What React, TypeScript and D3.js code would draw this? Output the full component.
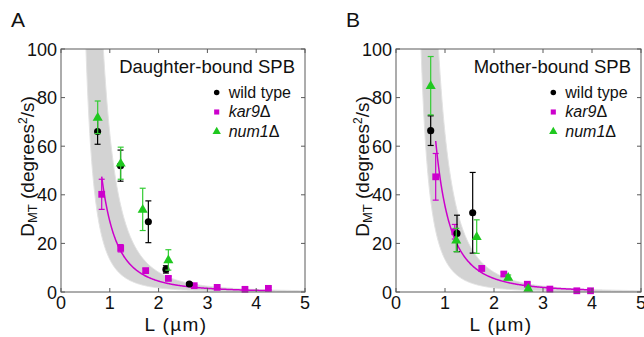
import React from 'react';
import * as d3 from 'd3';

const xTicks = [0, 1, 2, 3, 4, 5];
const yTicks = [0, 20, 40, 60, 80, 100];
const legendLabels = ['wild type', 'kar9', 'num1'];

// Daughter-bound SPB (panel A): [L (µm), D_MT, error]
const daughterWildType = [[0.75, 66, 5.2], [1.22, 52, 6.4], [1.79, 28.9, 8.6], [2.15, 9.3, 1.5], [2.63, 3.3, 0.6]];
const daughterKar9 = [[0.834, 40.2, 6.2], [1.223, 18, 1.5], [1.735, 8.8, 0.8], [2.2, 5.6, 0.8], [2.73, 2.6, 0.5], [3.2, 1.9, 0.5], [3.77, 1.1, 0.4], [4.25, 1.5, 0.5]];
const daughterNum1 = [[0.752, 71.9, 6.7], [1.223, 53, 6.6], [1.674, 34, 8.7], [2.2, 13.2, 4.2]];

// Mother-bound SPB (panel B)
const motherWildType = [[0.708, 66.4, 6.1], [1.245, 24.1, 7.5], [1.565, 32.6, 16.6]];
const motherKar9 = [[0.81, 47.4, 9.6], [1.2, 24.8, 3], [1.75, 9.7, 1], [2.2, 7.4, 0.8], [2.68, 3.2, 0.6], [3.14, 1.2, 0.5], [3.69, 0.5, 0.4], [3.97, 0.5, 0.4]];
const motherNum1 = [[0.708, 84.9, 12], [1.23, 21.4, 4.8], [1.647, 22.8, 6.9], [2.29, 6, 1], [2.7, 1.5, 0.5]];

// kar9Δ power-law fit D = a / L^p, drawn over [from, to]
const daughterFit = [29.1, 2.7, 0.834, 4.28];
const motherFit = [35.4, 2.67, 0.81, 4.0];
// model band D = c / L^3 (lower c, upper c)
const bandCoef = [13.4, 65.2];

const COLORS = ['#000000', '#cc00cc', '#1fc81f'];
const ERR_COLORS = ['#000000', '#cc00cc', '#33cc33'];
const SYMBOLS = [d3.symbolCircle, d3.symbolSquare, d3.symbolTriangle];
const SIZES = [40, 46, 44];
const LEG_SIZES = [24, 26, 30];
const FONT = 'Liberation Sans, Arial, sans-serif';

type Row = number[];

function Panel(props: {
  id: string; left: number; right: number; letter: string; letterX: number;
  title: string; legendX: number; ylabelX: number; xlabelX: number;
  series: Row[][]; fit: number[];
}) {
  const { id, left, right, letter, letterX, title, legendX, ylabelX, xlabelX, series, fit } = props;
  const top = 49, bottom = 292;
  const x = d3.scaleLinear().domain([0, 5]).range([left, right]);
  const y = d3.scaleLinear().domain([0, 100]).range([bottom, top]);

  const Ls = d3.range(0.3, 5.6, 0.01);
  const area = d3.area<number>()
    .x(l => x(l))
    .y0(l => y(Math.min(bandCoef[0] / (l * l * l), 200)))
    .y1(l => y(Math.min(bandCoef[1] / (l * l * l), 200)));
  const fitLs = d3.range(fit[2], fit[3] + 0.001, 0.01);
  const line = d3.line<number>().x(l => x(l)).y(l => y(fit[0] / Math.pow(l, fit[1])));
  const clipId = 'clip-' + id;
  const tl = 4;
  const order = [1, 0, 2];

  return (
    <g>
      <defs>
        <clipPath id={clipId}>
          <rect x={left} y={top} width={right - left} height={bottom - top} />
        </clipPath>
      </defs>
      <text x={letterX} y={27} fontSize={21} fontFamily={FONT} fill="#111">{letter}</text>
      <g clipPath={`url(#${clipId})`}>
        <path d={area(Ls) || ''} fill="#d3d3d3" stroke="#e2e2e2" strokeWidth={1} />
        <path d={line(fitLs) || ''} fill="none" stroke="#cc00cc" strokeWidth={1.5} />
      </g>
      {order.map(si => (
        <g key={si}>
          {series[si].map((r, i) => {
            const cx = x(r[0]);
            const cy = y(r[1]);
            const yt = y(r[1] + r[2]);
            const yb = y(Math.max(r[1] - r[2], 0));
            return (
              <g key={i}>
                <g stroke={ERR_COLORS[si]} strokeWidth={1.2}>
                  <line x1={cx} x2={cx} y1={yt} y2={yb} />
                  <line x1={cx - 3} x2={cx + 3} y1={yt} y2={yt} />
                  <line x1={cx - 3} x2={cx + 3} y1={yb} y2={yb} />
                </g>
                <path d={d3.symbol(SYMBOLS[si], SIZES[si])() || ''}
                  transform={`translate(${cx},${cy + (si === 2 ? 0.5 : 0)})`} fill={COLORS[si]} />
              </g>
            );
          })}
        </g>
      ))}
      <rect x={left} y={top} width={right - left} height={bottom - top} fill="none" stroke="#5a5a5a" strokeWidth={1} />
      {xTicks.map(t => (
        <g key={'x' + t}>
          <line x1={x(t)} x2={x(t)} y1={bottom} y2={bottom - tl} stroke="#5a5a5a" />
          <line x1={x(t)} x2={x(t)} y1={top} y2={top + tl} stroke="#5a5a5a" />
          <text x={x(t)} y={309} textAnchor="middle" fontSize={18} fontFamily={FONT} fill="#111">{t}</text>
        </g>
      ))}
      {yTicks.map(t => (
        <g key={'y' + t}>
          <line x1={left} x2={left + tl} y1={y(t)} y2={y(t)} stroke="#5a5a5a" />
          <line x1={right} x2={right - tl} y1={y(t)} y2={y(t)} stroke="#5a5a5a" />
          <text x={left - 4} y={y(t) + 6.5} textAnchor="end" fontSize={18} fontFamily={FONT} fill="#111">{t}</text>
        </g>
      ))}
      <text x={xlabelX} y={331} textAnchor="middle" fontSize={19} letterSpacing={1.4} fontFamily={FONT} fill="#111">L (µm)</text>
      <text transform={`translate(${ylabelX},${(top + bottom) / 2 - 4}) rotate(-90)`} textAnchor="middle"
        fontSize={19} fontFamily={FONT} fill="#111">
        D<tspan fontSize={13} dy={3}>MT</tspan><tspan dy={-3}> (degrees</tspan><tspan fontSize={12} dy={-7}>2</tspan><tspan dy={7}>/s)</tspan>
      </text>
      <text x={right - 10} y={73} textAnchor="end" fontSize={18.5} fontFamily={FONT} fill="#111">{title}</text>
      {legendLabels.map((lab, i) => {
        const by = 97.5 + i * 19.5;
        return (
          <g key={lab}>
            <path d={d3.symbol(SYMBOLS[i], LEG_SIZES[i])() || ''} transform={`translate(${legendX},${by - 5})`} fill={COLORS[i]} />
            <text x={legendX + 12} y={by} fontSize={16} fontFamily={FONT} fill="#111">
              {i === 0 ? lab : (<><tspan fontStyle="italic">{lab}</tspan><tspan>Δ</tspan></>)}
            </text>
          </g>
        );
      })}
    </g>
  );
}

export default function App() {
  return (
    <svg width={644} height={337} style={{ position: 'absolute', left: 0, top: 0, background: '#fff' }}>
      <rect width={644} height={337} fill="#fff" />
      <Panel id="a" left={61} right={305} letter="A" letterX={11} title="Daughter-bound SPB" legendX={216.7}
        ylabelX={34} xlabelX={176} series={[daughterWildType, daughterKar9, daughterNum1]} fit={daughterFit} />
      <Panel id="b" left={396} right={641} letter="B" letterX={346} title="Mother-bound SPB" legendX={553.3}
        ylabelX={369} xlabelX={501} series={[motherWildType, motherKar9, motherNum1]} fit={motherFit} />
    </svg>
  );
}
